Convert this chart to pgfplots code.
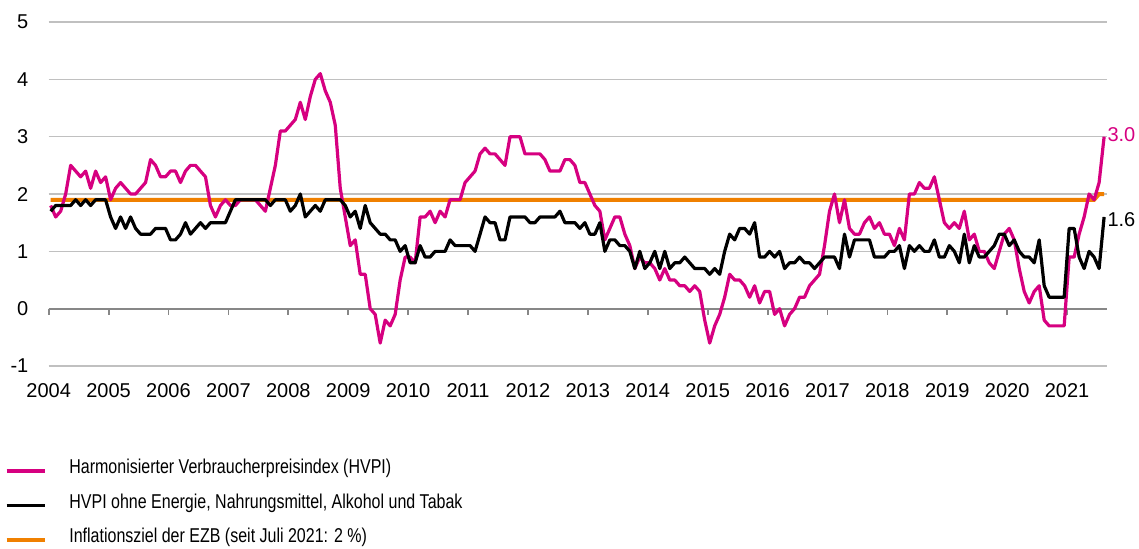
\documentclass[border=0pt]{standalone}
\usepackage{fontspec}
\setmainfont{Liberation Sans}
\newfontfamily\narrowfont[FakeStretch=0.8]{Liberation Sans}
\usepackage{pgfplots}
\pgfplotsset{compat=1.18}
\usepackage{pgfplotstable}
\definecolor{hvpi}{RGB}{214,0,128}
\definecolor{ezb}{RGB}{240,128,0}
\definecolor{gridgray}{RGB}{192,192,192}
\definecolor{axgray}{RGB}{135,135,135}

% year month HVPI core (HVPI ohne Energie, Nahrungsmittel, Alkohol und Tabak)
\pgfplotstableread{
year month hvpi core
2004 1 1.8 1.7
2004 2 1.6 1.8
2004 3 1.7 1.8
2004 4 2.0 1.8
2004 5 2.5 1.8
2004 6 2.4 1.9
2004 7 2.3 1.8
2004 8 2.4 1.9
2004 9 2.1 1.8
2004 10 2.4 1.9
2004 11 2.2 1.9
2004 12 2.3 1.9
2005 1 1.9 1.6
2005 2 2.1 1.4
2005 3 2.2 1.6
2005 4 2.1 1.4
2005 5 2.0 1.6
2005 6 2.0 1.4
2005 7 2.1 1.3
2005 8 2.2 1.3
2005 9 2.6 1.3
2005 10 2.5 1.4
2005 11 2.3 1.4
2005 12 2.3 1.4
2006 1 2.4 1.2
2006 2 2.4 1.2
2006 3 2.2 1.3
2006 4 2.4 1.5
2006 5 2.5 1.3
2006 6 2.5 1.4
2006 7 2.4 1.5
2006 8 2.3 1.4
2006 9 1.8 1.5
2006 10 1.6 1.5
2006 11 1.8 1.5
2006 12 1.9 1.5
2007 1 1.8 1.7
2007 2 1.8 1.9
2007 3 1.9 1.9
2007 4 1.9 1.9
2007 5 1.9 1.9
2007 6 1.9 1.9
2007 7 1.8 1.9
2007 8 1.7 1.9
2007 9 2.1 1.8
2007 10 2.5 1.9
2007 11 3.1 1.9
2007 12 3.1 1.9
2008 1 3.2 1.7
2008 2 3.3 1.8
2008 3 3.6 2.0
2008 4 3.3 1.6
2008 5 3.7 1.7
2008 6 4.0 1.8
2008 7 4.1 1.7
2008 8 3.8 1.9
2008 9 3.6 1.9
2008 10 3.2 1.9
2008 11 2.1 1.9
2008 12 1.6 1.8
2009 1 1.1 1.6
2009 2 1.2 1.7
2009 3 0.6 1.4
2009 4 0.6 1.8
2009 5 0.0 1.5
2009 6 -0.1 1.4
2009 7 -0.6 1.3
2009 8 -0.2 1.3
2009 9 -0.3 1.2
2009 10 -0.1 1.2
2009 11 0.5 1.0
2009 12 0.9 1.1
2010 1 0.9 0.8
2010 2 0.8 0.8
2010 3 1.6 1.1
2010 4 1.6 0.9
2010 5 1.7 0.9
2010 6 1.5 1.0
2010 7 1.7 1.0
2010 8 1.6 1.0
2010 9 1.9 1.2
2010 10 1.9 1.1
2010 11 1.9 1.1
2010 12 2.2 1.1
2011 1 2.3 1.1
2011 2 2.4 1.0
2011 3 2.7 1.3
2011 4 2.8 1.6
2011 5 2.7 1.5
2011 6 2.7 1.5
2011 7 2.6 1.2
2011 8 2.5 1.2
2011 9 3.0 1.6
2011 10 3.0 1.6
2011 11 3.0 1.6
2011 12 2.7 1.6
2012 1 2.7 1.5
2012 2 2.7 1.5
2012 3 2.7 1.6
2012 4 2.6 1.6
2012 5 2.4 1.6
2012 6 2.4 1.6
2012 7 2.4 1.7
2012 8 2.6 1.5
2012 9 2.6 1.5
2012 10 2.5 1.5
2012 11 2.2 1.4
2012 12 2.2 1.5
2013 1 2.0 1.3
2013 2 1.8 1.3
2013 3 1.7 1.5
2013 4 1.2 1.0
2013 5 1.4 1.2
2013 6 1.6 1.2
2013 7 1.6 1.1
2013 8 1.3 1.1
2013 9 1.1 1.0
2013 10 0.7 0.7
2013 11 0.9 1.0
2013 12 0.8 0.7
2014 1 0.8 0.8
2014 2 0.7 1.0
2014 3 0.5 0.7
2014 4 0.7 1.0
2014 5 0.5 0.7
2014 6 0.5 0.8
2014 7 0.4 0.8
2014 8 0.4 0.9
2014 9 0.3 0.8
2014 10 0.4 0.7
2014 11 0.3 0.7
2014 12 -0.2 0.7
2015 1 -0.6 0.6
2015 2 -0.3 0.7
2015 3 -0.1 0.6
2015 4 0.2 1.0
2015 5 0.6 1.3
2015 6 0.5 1.2
2015 7 0.5 1.4
2015 8 0.4 1.4
2015 9 0.2 1.3
2015 10 0.4 1.5
2015 11 0.1 0.9
2015 12 0.3 0.9
2016 1 0.3 1.0
2016 2 -0.1 0.9
2016 3 0.0 1.0
2016 4 -0.3 0.7
2016 5 -0.1 0.8
2016 6 0.0 0.8
2016 7 0.2 0.9
2016 8 0.2 0.8
2016 9 0.4 0.8
2016 10 0.5 0.7
2016 11 0.6 0.8
2016 12 1.1 0.9
2017 1 1.7 0.9
2017 2 2.0 0.9
2017 3 1.5 0.7
2017 4 1.9 1.3
2017 5 1.4 0.9
2017 6 1.3 1.2
2017 7 1.3 1.2
2017 8 1.5 1.2
2017 9 1.6 1.2
2017 10 1.4 0.9
2017 11 1.5 0.9
2017 12 1.3 0.9
2018 1 1.3 1.0
2018 2 1.1 1.0
2018 3 1.4 1.1
2018 4 1.2 0.7
2018 5 2.0 1.1
2018 6 2.0 1.0
2018 7 2.2 1.1
2018 8 2.1 1.0
2018 9 2.1 1.0
2018 10 2.3 1.2
2018 11 1.9 0.9
2018 12 1.5 0.9
2019 1 1.4 1.1
2019 2 1.5 1.0
2019 3 1.4 0.8
2019 4 1.7 1.3
2019 5 1.2 0.8
2019 6 1.3 1.1
2019 7 1.0 0.9
2019 8 1.0 0.9
2019 9 0.8 1.0
2019 10 0.7 1.1
2019 11 1.0 1.3
2019 12 1.3 1.3
2020 1 1.4 1.1
2020 2 1.2 1.2
2020 3 0.7 1.0
2020 4 0.3 0.9
2020 5 0.1 0.9
2020 6 0.3 0.8
2020 7 0.4 1.2
2020 8 -0.2 0.4
2020 9 -0.3 0.2
2020 10 -0.3 0.2
2020 11 -0.3 0.2
2020 12 -0.3 0.2
2021 1 0.9 1.4
2021 2 0.9 1.4
2021 3 1.3 0.9
2021 4 1.6 0.7
2021 5 2.0 1.0
2021 6 1.9 0.9
2021 7 2.2 0.7
2021 8 3.0 1.6
}\inflation

% EZB-Inflationsziel (year month value)
\pgfplotstableread{
year month ziel
2004 1 1.9
2021 6 1.9
2021 7 2.0
2021 8 2.0
}\ziel

\begin{document}
\begin{tikzpicture}
\begin{axis}[
  name=ax, at={(0,0)}, anchor=south west,
  scale only axis, width=529pt, height=172pt,
  xmin=2004, xmax=2021.66, ymin=-1, ymax=5,
  axis line style={draw=none},
  tick style={draw=none}, major tick length=0pt,
  ytick={-1,0,...,5},
  xtick={2004,...,2021},
  ymajorgrids, grid style={gridgray, line width=0.75pt},
  /pgf/number format/assume math mode=true,
  /pgf/number format/1000 sep={},
  tick label style={font=\fontsize{10}{12}\selectfont, text=black},
  yticklabel style={anchor=east, inner sep=0pt, xshift=-10pt},
  xticklabel style={anchor=north, inner sep=0pt, yshift=-8.5pt},
  clip=false,
  legend cell align=left,
  legend image code/.code={\draw[#1] (0pt,-1.5pt) -- (19pt,-1.5pt);},
  legend style={at={(-0.0417,-0.27)}, anchor=north west, draw=none, fill=none,
    font=\narrowfont\fontsize{10}{12}\selectfont, inner sep=0pt,
    row sep=8.5pt,
    nodes={inner sep=0pt},
    /tikz/every odd column/.append style={column sep=11.5pt}},
]
  \draw[axgray, line width=1pt] (axis cs:2004,0) -- (axis cs:2021.66,0);
  \pgfplotsinvokeforeach{2004,...,2021}{
    \draw[axgray, line width=0.9pt] (axis cs:#1,0) -- ++(0pt,-3.3pt);
  }
  \addplot[ezb, line width=2pt, forget plot]
    table[x expr={\thisrow{year}+(\thisrow{month}-0.6)/12}, y=ziel] {\ziel};
  \addplot[hvpi, line width=1.6pt, line join=round]
    table[x expr={\thisrow{year}+(\thisrow{month}-0.6)/12}, y=hvpi] {\inflation};
  \addlegendentry{Harmonisierter Verbraucherpreisindex (HVPI)}
  \addplot[black, line width=1.6pt, line join=round]
    table[x expr={\thisrow{year}+(\thisrow{month}-0.6)/12}, y=core] {\inflation};
  \addlegendentry{HVPI ohne Energie, Nahrungsmittel, Alkohol und Tabak}
  \addlegendimage{ezb, line width=1.7pt}
  \addlegendentry{Inflationsziel der EZB (seit Juli 2021: 2 \%)}
  \node[anchor=west, inner sep=0pt, xshift=1.5pt, yshift=1pt, text=hvpi,
        font=\fontsize{10}{12}\selectfont] at (axis cs:2021.617,3.0) {3.0};
  \node[anchor=west, inner sep=0pt, xshift=1.5pt, yshift=-1.5pt, text=black,
        font=\fontsize{10}{12}\selectfont] at (axis cs:2021.617,1.6) {1.6};
\end{axis}
\pgfresetboundingbox
\path ([shift={(-24.35pt,-91pt)}]ax.south west) rectangle ++(569.5pt,274pt);
\end{tikzpicture}
\end{document}
